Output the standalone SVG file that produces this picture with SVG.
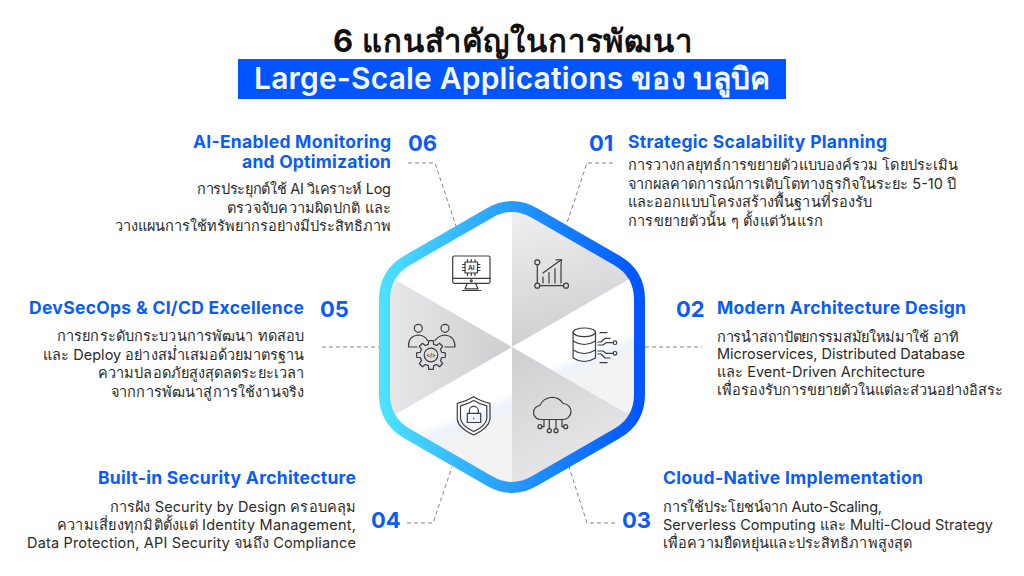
<svg xmlns="http://www.w3.org/2000/svg" width="1024" height="576" viewBox="0 0 1024 576">
<defs>
<linearGradient id="ring" x1="0" x2="1" y1="0" y2="0"><stop offset="0" stop-color="#4be1ff"/><stop offset="1" stop-color="#0055ff"/></linearGradient>
<linearGradient id="g1" gradientUnits="userSpaceOnUse" x1="530" y1="210" x2="560" y2="345"><stop offset="0" stop-color="#efeff0"/><stop offset=".95" stop-color="#d0d0d3"/></linearGradient>
<linearGradient id="g2" gradientUnits="userSpaceOnUse" x1="385" y1="340" x2="512" y2="340"><stop offset="0" stop-color="#e8e8ea"/><stop offset="1" stop-color="#cecED1"/></linearGradient>
<linearGradient id="g3" gradientUnits="userSpaceOnUse" x1="512" y1="347" x2="570" y2="480"><stop offset="0" stop-color="#cfcfd2"/><stop offset="1" stop-color="#e8e8ea"/></linearGradient>
<linearGradient id="wr" gradientUnits="userSpaceOnUse" x1="588" y1="350" x2="596" y2="370"><stop offset="0" stop-color="#ffffff"/><stop offset=".5" stop-color="#edf2fb"/><stop offset="1" stop-color="#f3f3f4"/></linearGradient>
<linearGradient id="wl" gradientUnits="userSpaceOnUse" x1="459" y1="413" x2="467" y2="433"><stop offset="0" stop-color="#ffffff"/><stop offset=".5" stop-color="#edf2fb"/><stop offset="1" stop-color="#f3f3f4"/></linearGradient>
<clipPath id="hexclip"><path d="M489.500 213Q512 200 534.500 213L617 260.400Q639.500 273.400 639.500 299.400V394.600Q639.500 420.600 617 433.600L534.500 481Q512 494 489.500 481L407 433.600Q384.500 420.600 384.500 394.600V299.400Q384.500 273.400 407 260.400Z"/></clipPath>
</defs>
<style>
text{font-family:"Inter","Noto Sans","Liberation Sans",sans-serif}
.h{font-size:17.500px;font-weight:700;fill:#0a5cf5}
.n{font-size:22px;font-weight:700;fill:#0a5cf5}
.b{font-size:14.500px;fill:#2a2a2a}
.c{fill:none;stroke:#666;stroke-width:.8;stroke-dasharray:4 3}
.i{fill:none;stroke:#3c3c40;stroke-width:1.200;stroke-linecap:round;stroke-linejoin:round}
.t{fill:#3c3c40;stroke:none;font-weight:700;text-anchor:middle}
</style>
<rect width="1024" height="576" fill="#fff"/>
<g id="title">
<text x="333" y="52" textLength="359" style="font-size:31px;font-weight:700;fill:#111">6 แกนสำคัญในการพัฒนา</text>
<rect x="238" y="59" width="548" height="40" fill="#0055ff"/>
<text x="254" y="89" textLength="516" style="font-size:30px;font-weight:600;fill:#f4f7ff">Large-Scale Applications ของ บลูบิค</text>
</g>
<g id="connectors">
<path class="c" d="M613 163H587L566 226M408 163H435L456 226M645 347H702M322 347H379M407 523H433L452 467M615 523H587L569 467"/>
</g>
<g id="hex">
<g clip-path="url(#hexclip)">
<path fill="url(#g1)" d="M512 347V199L640 273Z"/>
<path fill="url(#wr)" d="M512 347L640 273V421Z"/>
<path fill="url(#g3)" d="M512 347L640 421L512 495Z"/>
<path fill="url(#wl)" d="M512 347V495L384 421Z"/>
<path fill="url(#g2)" d="M512 347L384 421V273Z"/>
<path fill="#fff" d="M512 347L384 273L512 199Z"/>
</g>
<path fill="none" stroke="url(#ring)" stroke-width="11" stroke-linejoin="round" d="M489.500 213Q512 200 534.500 213L617 260.400Q639.500 273.400 639.500 299.400V394.600Q639.500 420.600 617 433.600L534.500 481Q512 494 489.500 481L407 433.600Q384.500 420.600 384.500 394.600V299.400Q384.500 273.400 407 260.400Z"/>
</g>
<g id="icon1" class="i"><circle cx="537.300" cy="262.300" r="2.500"/><circle cx="537.300" cy="285.700" r="2.500"/><circle cx="566" cy="285.700" r="2.500"/><path d="M537.300 265V283M540 285.700H563.500M543 273L561.500 259.500M556 259.800L561.500 259.500L561 265M543 283V277M549 283V272.500M555 283V268.500M561 283V265"/></g>
<g id="icon2" class="i"><ellipse cx="584.300" cy="332.300" rx="11.200" ry="4.300"/><path d="M573.100 332.300V358Q584 365 595.500 358V332.300M573.100 341Q584 348 595.500 341M573.100 350Q584 357 595.500 350M600 332.700H607M600 362.700H607" /><path d="M598 345H603L606 342.700H613M598 342H601L605 338.300H610M598 351H603L606 353.300H613M598 354H601L605 358H610"/><circle cx="615" cy="342.700" r="1.800"/><circle cx="615" cy="353.300" r="1.800"/></g>
<g id="icon3" class="i"><path d="M541 419.500A7 7 0 0 1 540 405.500A13 13 0 0 1 563 403.500A8 8 0 0 1 563 419.500H541M544 419.500V426.700H542M549.300 419.500V428.700M556 419.500V428.700M562 419.500V426.700H563.700"/><circle cx="540" cy="426.700" r="2"/><circle cx="549.300" cy="430.700" r="2"/><circle cx="556" cy="430.700" r="2"/><circle cx="565.700" cy="426.700" r="2"/></g>
<g id="icon4" class="i"><path d="M473.700 396.700Q466 401.500 457.300 403.300V419Q458 428 473.700 435Q489 428 490 419V403.300Q481 401.500 473.700 396.700Z"/><path d="M473.700 400.500Q467 404.500 460.500 405.800V418.500Q461.500 426 473.700 431.500Q486 426 486.800 418.500V405.800Q480.500 404.500 473.700 400.500Z"/><rect x="467.300" y="413.300" width="13.400" height="9.200"/><path d="M469.300 413.300V410.500A4.400 4 0 0 1 478.300 410.500V413.300M473.700 418V418.600"/></g>
<g id="icon5" class="i"><circle cx="418.300" cy="328.300" r="4"/><circle cx="445" cy="328.300" r="4"/><path d="M408.500 347Q408 336 418.300 335Q425 335.500 427.500 340.500M408.500 347H417M455 347Q455 336 445 335Q438.500 335.500 435 340.500M455 347H445"/><polygon transform="translate(431 355)" points="10.670,-2.660 14.320,-2.270 14.320,2.270 10.670,2.660 9.430,5.670 11.730,8.520 8.520,11.730 5.670,9.430 2.660,10.670 2.270,14.320 -2.270,14.320 -2.660,10.670 -5.670,9.430 -8.520,11.730 -11.730,8.520 -9.430,5.670 -10.670,2.660 -14.320,2.270 -14.320,-2.270 -10.670,-2.660 -9.430,-5.670 -11.730,-8.520 -8.520,-11.730 -5.670,-9.430 -2.660,-10.670 -2.270,-14.320 2.270,-14.320 2.660,-10.670 5.670,-9.430 8.520,-11.730 11.730,-8.520 9.430,-5.670"/><circle cx="431" cy="355" r="6.800"/><text class="t" x="431" y="357" style="font-size:5.500px">&lt;/&gt;</text></g>
<g id="icon6" class="i"><rect x="452.700" y="256" width="37.300" height="27.300" rx="1.500"/><path d="M452.700 278.300H490M467.300 283.300L465 288.800H478L475.500 283.300M462.300 290.500H480.700"/><circle cx="471.300" cy="280.800" r="1"/><rect x="465" y="262" width="12.500" height="11"/><path d="M467.500 259.500V262M471.300 259.500V262M475 259.500V262M467.500 273V275.500M471.300 273V275.500M475 273V275.500M462.500 264.500H465M462.500 267.500H465M462.500 270.500H465M477.500 264.500H480M477.500 267.500H480M477.500 270.500H480"/><text class="t" x="471.300" y="270" style="font-size:6.500px">AI</text></g>
<g id="n1"><text class="n" x="589" y="151">01</text><text class="h" x="628" y="148" textLength="259">Strategic Scalability Planning</text>
<text class="b" x="628" y="170" textLength="330">การวางกลยุทธ์การขยายตัวแบบองค์รวม โดยประเมิน</text><text class="b" x="628" y="188.500" textLength="328">จากผลคาดการณ์การเติบโตทางธุรกิจในระยะ 5-10 ปี</text><text class="b" x="628" y="207" textLength="244">และออกแบบโครงสร้างพื้นฐานที่รองรับ</text><text class="b" x="628" y="226" textLength="195">การขยายตัวนั้น ๆ ตั้งแต่วันแรก</text></g>
<g id="n2"><text class="n" x="676" y="317">02</text><text class="h" x="717" y="314" textLength="249">Modern Architecture Design</text>
<text class="b" x="717" y="341.500" textLength="242">การนำสถาปัตยกรรมสมัยใหม่มาใช้ อาทิ</text><text class="b" x="717" y="359" textLength="248">Microservices, Distributed Database</text><text class="b" x="717" y="377" textLength="208">และ Event-Driven Architecture</text><text class="b" x="717" y="395" textLength="286">เพื่อรองรับการขยายตัวในแต่ละส่วนอย่างอิสระ</text></g>
<g id="n3"><text class="n" x="622" y="528">03</text><text class="h" x="663" y="484" textLength="260">Cloud-Native Implementation</text>
<text class="b" x="663" y="511.500" textLength="219">การใช้ประโยชน์จาก Auto-Scaling,</text><text class="b" x="663" y="530" textLength="330">Serverless Computing และ Multi-Cloud Strategy</text><text class="b" x="663" y="547.500" textLength="249">เพื่อความยืดหยุ่นและประสิทธิภาพสูงสุด</text></g>
<g id="n4"><text class="n" x="371" y="528">04</text><text class="h" x="98" y="484" textLength="258">Built-in Security Architecture</text>
<text class="b" x="110" y="511.500" textLength="246">การฝัง Security by Design ครอบคลุม</text><text class="b" x="57" y="529.500" textLength="299">ความเสี่ยงทุกมิติตั้งแต่ Identity Management,</text><text class="b" x="27" y="547.500" textLength="329">Data Protection, API Security จนถึง Compliance</text></g>
<g id="n5"><text class="n" x="320" y="317">05</text><text class="h" x="29" y="314" textLength="275">DevSecOps &amp; CI/CD Excellence</text>
<text class="b" x="57" y="341" textLength="247">การยกระดับกระบวนการพัฒนา ทดสอบ</text><text class="b" x="43" y="359.500" textLength="261">และ Deploy อย่างสม่ำเสมอด้วยมาตรฐาน</text><text class="b" x="98" y="378" textLength="206">ความปลอดภัยสูงสุดลดระยะเวลา</text><text class="b" x="111" y="396.500" textLength="193">จากการพัฒนาสู่การใช้งานจริง</text></g>
<g id="n6"><text class="n" x="408" y="151">06</text><text class="h"><tspan x="193" y="148" textLength="198">AI-Enabled Monitoring</tspan><tspan x="242" y="168" textLength="149">and Optimization</tspan></text>
<text class="b" x="197" y="194" textLength="194">การประยุกต์ใช้ AI วิเคราะห์ Log</text><text class="b" x="227" y="212.500" textLength="164">ตรวจจับความผิดปกติ และ</text><text class="b" x="115" y="231" textLength="276">วางแผนการใช้ทรัพยากรอย่างมีประสิทธิภาพ</text></g>
</svg>
